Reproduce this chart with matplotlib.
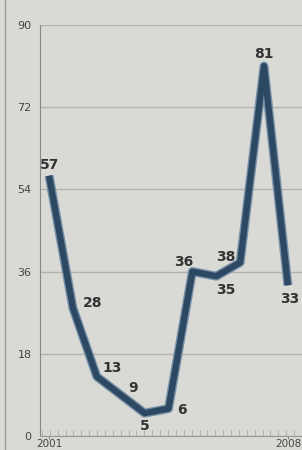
import numpy as np
import matplotlib
matplotlib.use('Agg')
from matplotlib import pyplot as plt

values = [57, 28, 13, 9, 5, 6, 36, 35, 38, 81, 33]
yticks = [0, 18, 36, 54, 72, 90]
xlabels = {0: "2001", 10: "2008"}
# label offsets in points (dx, dy)
offsets = [(0, 8), (14, 4), (11, 6), (9, 5), (0, -9), (10, -1),
           (-6, 7), (7, -10), (-10, 4), (0, 9), (1, -10)]

bg = "#d9d9d5"
line_c = "#2c4862"

fig = plt.figure(figsize=(3.02, 4.5), dpi=100, facecolor=bg)
ax = fig.add_axes([40 / 302, 1 - 436 / 450, 262 / 302, 411 / 450])
ax.set_facecolor(bg)

x = np.arange(len(values))
ax.plot(x, values, color="#7890a6", lw=6.5, solid_capstyle="butt", solid_joinstyle="round", zorder=2)
ax.plot(x, values, color=line_c, lw=4.5, solid_capstyle="butt", solid_joinstyle="round", zorder=3)

for xi, v, (dx, dy) in zip(x, values, offsets):
    ax.annotate(str(v), (xi, v), xytext=(dx, dy), textcoords="offset points",
                ha="center", va="center", fontsize=10, fontweight="bold",
                color="#333333", zorder=4)

ax.set_ylim(0, 90)
ax.set_xlim(-0.38, 10.59)
ax.set_yticks(yticks)
ax.set_yticklabels([str(t) for t in yticks], fontsize=8, color="#444444")
ax.tick_params(axis="y", length=0, pad=6)
ax.grid(axis="y", color="#b2b3ae", lw=1)

ax.set_xticks(list(xlabels.keys()))
ax.set_xticklabels(list(xlabels.values()), fontsize=7.5, color="#444444")
ax.set_xticks(np.arange(-0.3, 10.5, 0.33), minor=True)
ax.tick_params(axis="x", which="major", length=2, pad=0, color="#888888")
ax.tick_params(axis="x", which="minor", length=4, color="#aaaaaa", direction="in")

for side in ["top", "right"]:
    ax.spines[side].set_visible(False)
ax.spines["left"].set_color("#888888")
ax.spines["bottom"].set_color("#999999")

fig.add_artist(plt.Line2D([5 / 302, 5 / 302], [0, 1], color="#999999", lw=1))

fig.savefig("out.png", dpi=100, facecolor=bg)
